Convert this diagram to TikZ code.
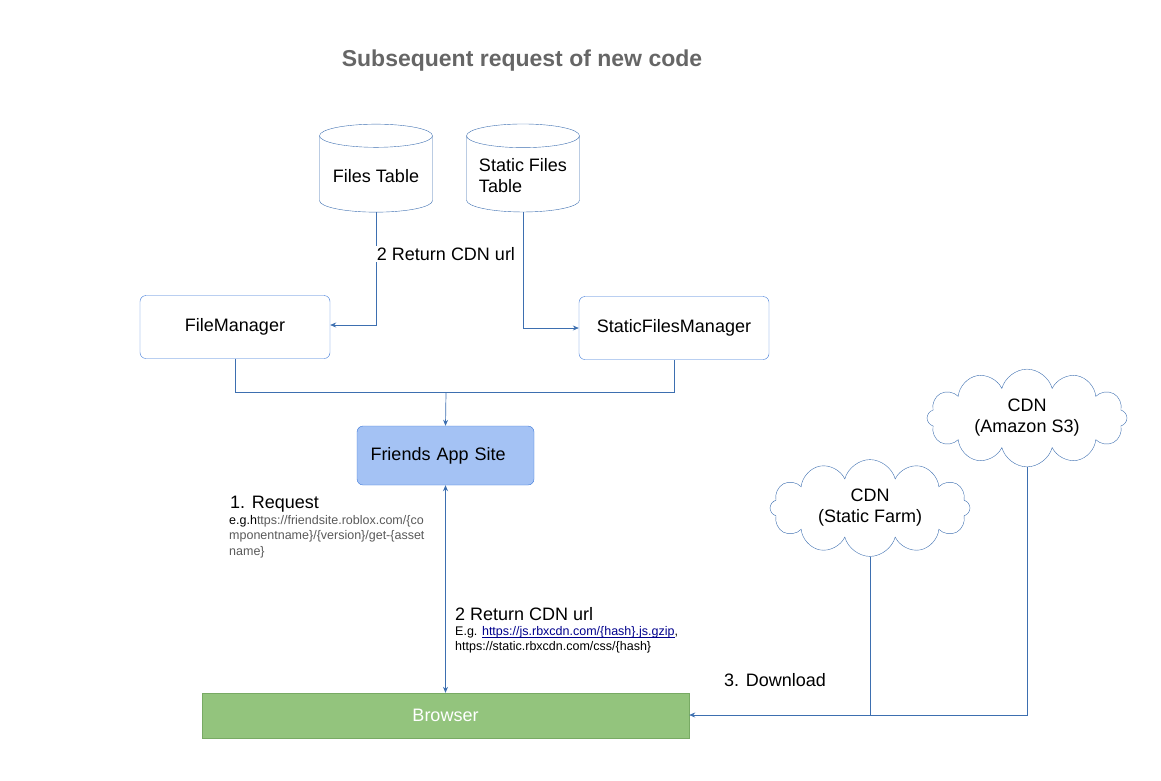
\documentclass[tikz,border=0pt]{standalone}
\usepackage{fontspec}
\setmainfont{Liberation Sans}
\usetikzlibrary{shapes.geometric,shapes.symbols,arrows.meta}
\definecolor{ln}{HTML}{3D6FB0}
\definecolor{bd}{HTML}{3C78D8}
\newcommand\myul[1]{\setbox0\hbox{#1}\rlap{\raisebox{-2pt}{\rule{\wd0}{0.6pt}}}\box0}
\tikzset{
  box/.style={draw=bd,rounded corners=6pt,minimum width=190pt,minimum height=63pt,font=\fontsize{18}{21}\selectfont,fill=white},
  db/.style={cylinder,shape border rotate=90,draw=ln,aspect=0.25,minimum width=113pt,minimum height=88pt,font=\fontsize{18}{21}\selectfont,align=left},
  cl/.style={cloud,cloud puffs=12,draw=ln,minimum width=200pt,minimum height=85pt,font=\fontsize{18}{21}\selectfont,align=center,aspect=2.3},
  con/.style={ln,line width=0.7pt},
  arr/.style={con,-{Stealth[length=6pt,width=5pt]}},
  small/.style={anchor=north west,align=left,inner sep=0pt,font=\fontsize{12.5}{15.5}\selectfont}
}
\begin{document}
\begin{tikzpicture}[x=1pt,y=-1pt]
\useasboundingbox (0,0) rectangle (1161,780);
\node[font=\bfseries\fontsize{23}{27}\selectfont,text=black!60] (title) at (522,61) {Subsequent request of new code};
\node[db] (ft) at (376,176) {Files Table};
\node[db] (sft) at (523,176) {Static Files\\Table};
\node[box] (fm) at (235,327) {FileManager};
\node[box] (sfm) at (674,328) {StaticFilesManager};
\node[box,fill={rgb,255:red,164;green,194;blue,244},minimum width=177pt,minimum height=59pt,text width=150pt] (fa) at (445.5,455.5) {Friends App Site};
\node[draw={rgb,255:red,120;green,170;blue,100},fill={rgb,255:red,147;green,196;blue,125},minimum width=487pt,minimum height=45pt,text=white,font=\fontsize{18}{21}\selectfont] (br) at (445.5,715.5) {Browser};
\node[cl] (c1) at (870,508) {CDN\\(Static Farm)};
\node[cl] (c2) at (1027,418) {CDN\\(Amazon S3)};
\coordinate (j1) at (376,325);
\coordinate (j2) at (523,328);
\draw[arr] (ft.bottom) -- (j1) -- (fm.east|-j1);
\draw[arr] (sft.bottom) -- (j2) -- (sfm.west|-j2);
\node[font=\fontsize{18}{21}\selectfont,fill=white,inner sep=1pt] (l2) at (446,254) {2 Return CDN url};
\coordinate (m) at (446,392);
\draw[con] (fm.south) -- (fm.south|-m) -- (sfm.south|-m) -- (sfm.south);
\draw[arr] (m) -- (fa.north);
\draw[con,{Stealth[length=6pt,width=5pt]}-{Stealth[length=6pt,width=5pt]}] (fa.south) -- (br.north);
\coordinate (k) at (1027,715);
\draw[arr] (c1.south) -- (c1.south|-k) -- (br.east|-k);
\draw[con] (c2.south) -- (k) -- (c1.south|-k);
\node[anchor=west,inner sep=0pt,font=\fontsize{18}{21}\selectfont] (req) at (230,504) {1. Request};
\node[small,text=black!65] (reqs) at (229,515) {{\color{black}e.g.h}ttps://friendsite.roblox.com/\{co\\mponentname\}/\{version\}/get-\{asset\\name\}};
\node[anchor=west,inner sep=0pt,font=\fontsize{18}{21}\selectfont] (ret) at (455,614) {2 Return CDN url};
\node[small] (rets) at (455,626) {E.g. {\color{blue!55!black}\myul{https://js.rbxcdn.com/\{hash\}.js.gzip}},\\https://static.rbxcdn.com/css/\{hash\}};
\node[font=\fontsize{18}{21}\selectfont] (dl) at (775,680) {3. Download};
\end{tikzpicture}
\end{document}
